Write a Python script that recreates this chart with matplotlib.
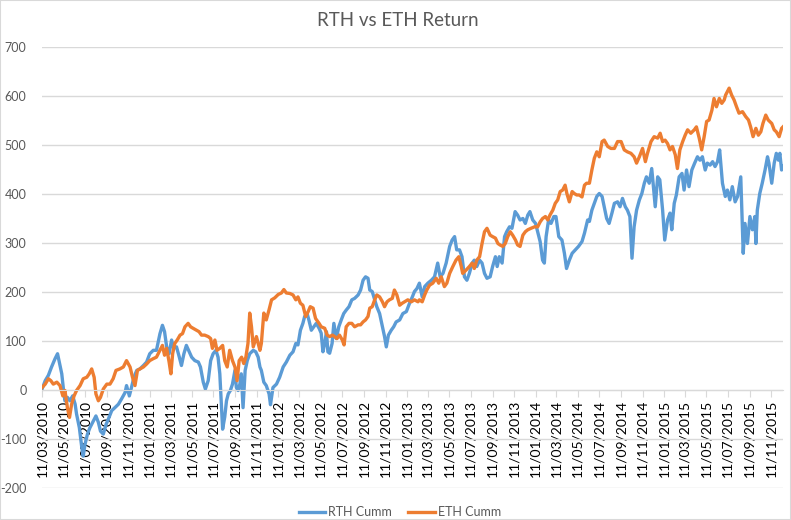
import numpy as np
import pandas as pd
import matplotlib
matplotlib.use('Agg')
from matplotlib import pyplot as plt
from matplotlib.patches import Rectangle

plt.rcParams['font.family'] = ['Lato', 'DejaVu Sans']

# series start date (days since start, cumulative return)
start_date = '2010-03-11'

rth_days = [0, 9, 18, 27, 37, 44, 49, 56, 61, 65, 72, 79, 87, 94, 98, 106, 113, 117, 122, 129,
            136, 146, 153, 160, 166, 174, 182, 188, 198, 207, 217, 226, 236, 240, 248, 254, 261, 269, 278, 288,
            297, 306, 316, 325, 335, 342, 348, 354, 361, 368, 374, 382, 390, 396, 403, 410, 418, 425, 434, 444,
            450, 458, 464, 472, 479, 486, 494, 500, 505, 510, 513, 519, 524, 529, 535, 541, 548, 552, 557, 562,
            566, 571, 577, 583, 590, 600, 607, 614, 619, 623, 630, 637, 645, 649, 656, 666, 675, 685, 694, 704,
            713, 721, 727, 734, 741, 746, 753, 758, 765, 772, 779, 787, 793, 798, 803, 808, 812, 817, 824, 829,
            836, 843, 850, 857, 864, 872, 880, 888, 898, 905, 912, 919, 926, 931, 938, 945, 951, 959, 967, 973,
            978, 984, 992, 999, 1006, 1016, 1025, 1035, 1044, 1052, 1058, 1065, 1072, 1080, 1087, 1096, 1106, 1115, 1124, 1131,
            1139, 1148, 1158, 1165, 1172, 1178, 1186, 1193, 1200, 1207, 1214, 1222, 1228, 1235, 1243, 1250, 1257, 1264, 1273, 1280,
            1288, 1293, 1299, 1307, 1314, 1320, 1328, 1335, 1344, 1351, 1358, 1366, 1373, 1380, 1386, 1394, 1402, 1408, 1415, 1422,
            1427, 1432, 1439, 1446, 1454, 1460, 1468, 1477, 1484, 1490, 1498, 1506, 1515, 1524, 1534, 1541, 1550, 1555, 1562, 1569,
            1576, 1583, 1591, 1597, 1604, 1611, 1619, 1626, 1635, 1642, 1649, 1657, 1663, 1670, 1676, 1682, 1689, 1697, 1704, 1711,
            1717, 1725, 1732, 1736, 1742, 1749, 1755, 1763, 1769, 1777, 1784, 1789, 1796, 1802, 1810, 1818, 1824, 1831, 1838, 1846,
            1854, 1862, 1869, 1876, 1884, 1890, 1898, 1905, 1912, 1919, 1925, 1933, 1941, 1947, 1954, 1961, 1969, 1976, 1985, 1992,
            1997, 2004, 2011, 2018, 2025, 2028, 2032, 2039, 2046, 2054, 2061, 2065, 2073, 2080, 2086, 2092, 2096, 2101, 2105]
rth_cumm = [2, 19, 30, 47, 64, 74, 57, 33, 0, -22, -15, -22, -12, -29, -49, -77, -118, -135, -111, -90,
            -77, -63, -53, -66, -84, -90, -70, -60, -42, -36, -29, -18, -5, 9, -12, 5, 26, 40, 43, 50,
            57, 74, 81, 81, 115, 132, 119, 88, 74, 102, 85, 88, 67, 50, 74, 91, 78, 67, 60, 57,
            47, 16, 2, 19, 60, 74, 81, 67, 33, -40, -80, -55, -22, -8, -1, 12, 40, 5, -1, 12,
            33, -36, 40, 60, 74, 81, 78, 67, 47, 40, 16, 9, -8, -30, 5, 12, 26, 47, 57, 71,
            78, 95, 92, 122, 136, 150, 156, 143, 122, 129, 136, 126, 116, 78, 95, 119, 78, 75, 95, 136,
            105, 129, 143, 156, 163, 170, 184, 187, 194, 204, 224, 231, 228, 204, 201, 184, 170, 156, 129, 109,
            88, 112, 122, 129, 139, 143, 156, 160, 177, 190, 201, 207, 218, 190, 211, 218, 224, 231, 259, 231,
            238, 259, 293, 306, 313, 286, 286, 272, 231, 224, 238, 259, 265, 252, 265, 259, 238, 228, 231, 252,
            272, 252, 272, 259, 313, 323, 333, 330, 364, 357, 347, 350, 340, 357, 364, 347, 340, 323, 303, 265,
            259, 313, 347, 340, 354, 354, 313, 306, 279, 248, 265, 279, 286, 293, 303, 320, 347, 344, 367, 381,
            395, 401, 395, 374, 350, 340, 361, 381, 384, 374, 391, 374, 367, 354, 269, 333, 367, 388, 401, 422,
            435, 422, 452, 422, 374, 435, 429, 367, 306, 347, 361, 327, 381, 398, 435, 442, 408, 449, 415, 449,
            463, 476, 469, 476, 449, 463, 459, 466, 456, 466, 490, 422, 395, 408, 388, 415, 384, 395, 435, 279,
            340, 299, 354, 327, 354, 299, 367, 401, 422, 449, 476, 463, 422, 463, 483, 469, 483, 449, 456]

eth_days = [0, 9, 18, 25, 32, 42, 51, 59, 65, 72, 78, 84, 91, 98, 108, 117, 127, 134, 141, 148,
            153, 160, 166, 174, 184, 193, 202, 210, 221, 231, 240, 250, 257, 264, 271, 278, 288, 297, 306, 316,
            325, 335, 342, 348, 354, 361, 366, 371, 377, 384, 392, 399, 406, 415, 422, 429, 439, 446, 453, 462,
            472, 479, 484, 491, 497, 505, 513, 519, 526, 533, 541, 548, 554, 560, 567, 573, 579, 585, 590, 595,
            600, 609, 619, 623, 630, 637, 645, 652, 661, 671, 680, 687, 694, 704, 713, 721, 727, 734, 741, 749,
            756, 762, 770, 777, 787, 793, 803, 810, 817, 825, 831, 838, 845, 853, 858, 864, 872, 880, 888, 898,
            905, 912, 919, 926, 931, 938, 945, 951, 959, 967, 973, 980, 987, 995, 1001, 1008, 1016, 1023, 1030, 1039,
            1049, 1058, 1068, 1072, 1080, 1087, 1093, 1101, 1110, 1120, 1127, 1134, 1143, 1150, 1158, 1167, 1176, 1184, 1191, 1195,
            1205, 1214, 1222, 1228, 1235, 1243, 1250, 1257, 1264, 1273, 1280, 1288, 1295, 1301, 1309, 1316, 1323, 1330, 1337, 1345,
            1351, 1358, 1366, 1373, 1380, 1389, 1399, 1408, 1415, 1422, 1430, 1437, 1443, 1451, 1458, 1465, 1472, 1479, 1486, 1491,
            1498, 1506, 1512, 1519, 1526, 1534, 1541, 1547, 1555, 1562, 1569, 1576, 1583, 1591, 1597, 1607, 1616, 1626, 1635, 1645,
            1654, 1663, 1673, 1682, 1689, 1697, 1706, 1714, 1720, 1730, 1739, 1749, 1756, 1763, 1770, 1777, 1784, 1791, 1799, 1805,
            1812, 1820, 1827, 1834, 1843, 1853, 1859, 1867, 1874, 1881, 1888, 1895, 1903, 1909, 1916, 1924, 1931, 1938, 1942, 1952,
            1959, 1966, 1973, 1980, 1990, 1999, 2007, 2013, 2020, 2028, 2035, 2042, 2048, 2056, 2063, 2073, 2080, 2086, 2094, 2101,
            2105]
eth_cumm = [5, 12, 23, 19, 12, 16, 9, -12, -1, -36, -56, -29, -12, -1, 9, 23, 26, 33, 43, 26,
            -8, -22, -15, 2, 12, 12, 23, 40, 43, 47, 60, 47, 26, 9, 40, 43, 47, 53, 60, 64,
            67, 81, 91, 71, 85, 57, 33, 74, 95, 102, 112, 115, 129, 136, 129, 126, 122, 119, 112, 112,
            109, 105, 85, 102, 81, 85, 91, 60, 47, 81, 60, 47, 19, 60, 67, 54, 67, 95, 157, 129,
            88, 109, 81, 95, 157, 143, 164, 184, 188, 195, 198, 205, 198, 197, 194, 184, 190, 177, 173, 150,
            160, 170, 167, 146, 136, 129, 126, 112, 109, 112, 109, 105, 112, 102, 92, 129, 136, 136, 129, 133,
            133, 139, 143, 150, 167, 170, 184, 194, 190, 180, 170, 180, 184, 187, 204, 194, 173, 177, 180, 184,
            180, 184, 180, 184, 180, 194, 204, 214, 218, 228, 218, 231, 211, 218, 238, 252, 265, 272, 252, 238,
            245, 252, 259, 248, 265, 272, 299, 323, 330, 316, 313, 310, 299, 296, 293, 299, 313, 323, 316, 306,
            296, 293, 316, 323, 327, 330, 333, 333, 343, 350, 354, 347, 357, 367, 381, 388, 405, 408, 418, 401,
            384, 405, 401, 398, 398, 394, 418, 422, 422, 449, 473, 486, 476, 507, 510, 497, 493, 493, 507, 507,
            490, 486, 483, 476, 463, 476, 493, 466, 483, 507, 517, 514, 524, 507, 510, 503, 490, 497, 480, 452,
            490, 507, 520, 531, 524, 531, 537, 514, 490, 517, 548, 551, 571, 595, 578, 595, 585, 592, 602, 616,
            602, 592, 578, 565, 568, 558, 551, 537, 517, 534, 520, 527, 544, 561, 551, 544, 531, 527, 517, 534,
            537]

y_ticks = [-200, -100, 0, 100, 200, 300, 400, 500, 600, 700]

start = np.datetime64(start_date)
rth_dates = start + np.array(rth_days).astype('timedelta64[D]')
eth_dates = start + np.array(eth_days).astype('timedelta64[D]')
tick_dates = pd.date_range(start_date, periods=35, freq=pd.DateOffset(months=2))

text_col = '#595959'
grid_col = '#D9D9D9'

fig = plt.figure(figsize=(7.91, 5.2), dpi=100)
ax = fig.add_axes([41.7 / 791, 32 / 520, (783 - 41.7) / 791, (488 - 47) / 520])

ax.plot(rth_dates, rth_cumm, color='#5B9BD5', lw=2.4, label='RTH Cumm', solid_joinstyle='round')
ax.plot(eth_dates, eth_cumm, color='#ED7D31', lw=2.4, label='ETH Cumm', solid_joinstyle='round')

ax.set_ylim(-200, 700)
ax.set_xlim(start - np.timedelta64(1, 'D'), start + np.timedelta64(2105, 'D'))
ax.set_yticks(y_ticks)
ax.set_yticklabels([str(v) for v in y_ticks], fontsize=9, color=text_col)
ax.set_xticks(tick_dates)
ax.set_xticklabels([d.strftime('%d/%m/%Y') for d in tick_dates], fontsize=9, color=text_col)

ax.grid(axis='y', color=grid_col, lw=1)
ax.set_axisbelow(True)
for s in ['top', 'right', 'left']:
    ax.spines[s].set_visible(False)
ax.spines['bottom'].set_position(('data', 0))
ax.spines['bottom'].set_color(grid_col)
ax.tick_params(axis='x', length=5, color=grid_col, pad=2, labelrotation=90)
ax.tick_params(axis='y', length=0, pad=11)

fig.text(398 / 791, 1 - 21 / 520, 'RTH vs ETH Return', ha='center', va='center',
         fontsize=13.5, color=text_col)

fig.legend(loc='center', bbox_to_anchor=(400 / 791, 1 - 512 / 520), ncol=2, frameon=False,
           fontsize=9, handlelength=2.1, handletextpad=0.25, columnspacing=1.3,
           labelcolor=text_col)

fig.patches.append(Rectangle((0, 0), 1, 1, transform=fig.transFigure, fill=False,
                             edgecolor=grid_col, lw=1.5))

fig.savefig('out.png', dpi=100)
